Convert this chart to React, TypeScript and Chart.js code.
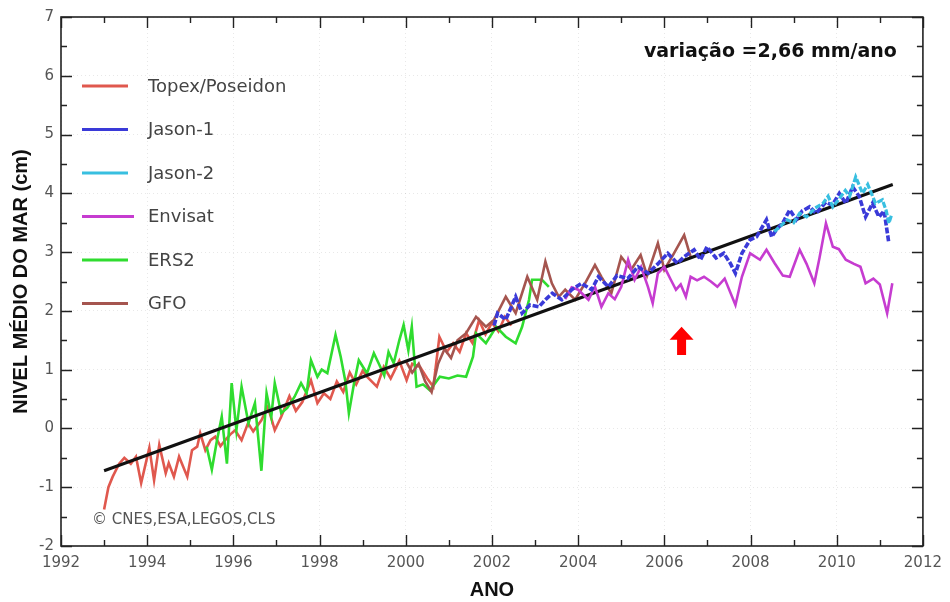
import React, { useEffect, useRef } from "react";
import { Chart, registerables } from "chart.js";

Chart.register(...registerables);

// ---------- axis ranges / labels ----------
const X_MIN = 1992;
const X_MAX = 2012;
const Y_MIN = -2;
const Y_MAX = 7;
const X_TITLE = "ANO";
const Y_TITLE = "NIVEL MÉDIO DO MAR (cm)";
const SLOPE_TEXT = "variação =2,66 mm/ano";
const CREDIT_TEXT = "© CNES,ESA,LEGOS,CLS";

// ---------- series ----------
const topexYears = [1993.0, 1993.1, 1993.2, 1993.35, 1993.47, 1993.62, 1993.74, 1993.86, 1994.05, 1994.16, 1994.28, 1994.43, 1994.5, 1994.62, 1994.74, 1994.93, 1995.04, 1995.16, 1995.23, 1995.35, 1995.47, 1995.58, 1995.7, 1995.81, 1995.93, 1996.04, 1996.19, 1996.34, 1996.46, 1996.65, 1996.8, 1996.96, 1997.11, 1997.3, 1997.45, 1997.6, 1997.8, 1997.95, 1998.1, 1998.25, 1998.4, 1998.55, 1998.7, 1998.85, 1999.0, 1999.1, 1999.33, 1999.49, 1999.65, 1999.85, 2000.02, 2000.15, 2000.33, 2000.5, 2000.64, 2000.78, 2000.95, 2001.1, 2001.25, 2001.4, 2001.55, 2001.7, 2001.85, 2002.0, 2002.15, 2002.3, 2002.45];
const topexValues = [-1.38, -1.0, -0.82, -0.6, -0.5, -0.6, -0.48, -0.93, -0.33, -0.88, -0.28, -0.76, -0.59, -0.82, -0.48, -0.82, -0.37, -0.31, -0.08, -0.37, -0.2, -0.14, -0.3, -0.2, -0.1, -0.03, -0.2, 0.09, -0.05, 0.14, 0.37, -0.03, 0.2, 0.55, 0.3, 0.45, 0.82, 0.43, 0.6, 0.5, 0.8, 0.62, 0.95, 0.75, 0.98, 0.88, 0.71, 1.05, 0.85, 1.15, 0.82, 1.1, 1.05, 0.85, 0.71, 1.56, 1.3, 1.45, 1.3, 1.62, 1.45, 1.84, 1.6, 1.8, 1.65, 1.9, 1.75];

const ers2Years = [1995.38, 1995.5, 1995.62, 1995.73, 1995.85, 1995.96, 1996.07, 1996.19, 1996.35, 1996.5, 1996.65, 1996.77, 1996.88, 1996.96, 1997.11, 1997.25, 1997.42, 1997.57, 1997.7, 1997.8, 1997.95, 1998.05, 1998.18, 1998.37, 1998.49, 1998.6, 1998.68, 1998.8, 1998.91, 1999.1, 1999.26, 1999.37, 1999.5, 1999.6, 1999.72, 1999.85, 1999.95, 2000.06, 2000.14, 2000.25, 2000.4, 2000.56, 2000.79, 2001.0, 2001.2, 2001.4, 2001.56, 2001.63, 2001.86, 2002.1, 2002.32, 2002.55, 2002.7, 2002.86, 2002.93, 2003.16, 2003.32];
const ers2Values = [-0.31, -0.7, -0.2, 0.2, -0.6, 0.77, -0.03, 0.71, 0.09, 0.43, -0.72, 0.6, 0.2, 0.77, 0.26, 0.35, 0.54, 0.77, 0.6, 1.16, 0.88, 1.0, 0.94, 1.59, 1.22, 0.8, 0.26, 0.77, 1.16, 0.94, 1.28, 1.11, 0.9, 1.3, 1.11, 1.5, 1.76, 1.33, 1.73, 0.71, 0.75, 0.65, 0.88, 0.85, 0.9, 0.88, 1.22, 1.62, 1.45, 1.73, 1.56, 1.45, 1.73, 2.19, 2.53, 2.53, 2.41];

const gfoYears = [2000.0, 2000.15, 2000.3, 2000.45, 2000.6, 2000.75, 2000.9, 2001.05, 2001.2, 2001.4, 2001.63, 2001.86, 2002.05, 2002.32, 2002.55, 2002.82, 2003.05, 2003.24, 2003.39, 2003.55, 2003.7, 2003.93, 2004.16, 2004.39, 2004.54, 2004.77, 2005.0, 2005.23, 2005.45, 2005.6, 2005.85, 2006.0, 2006.2, 2006.46, 2006.61];
const gfoValues = [1.15, 0.95, 1.1, 0.8, 0.62, 1.1, 1.35, 1.2, 1.5, 1.62, 1.9, 1.73, 1.85, 2.24, 1.96, 2.58, 2.19, 2.84, 2.47, 2.24, 2.36, 2.19, 2.47, 2.78, 2.58, 2.3, 2.92, 2.7, 2.95, 2.6, 3.15, 2.7, 2.95, 3.29, 2.92];

const jason1Years = [2002.05, 2002.13, 2002.32, 2002.55, 2002.7, 2002.88, 2003.09, 2003.24, 2003.4, 2003.62, 2003.85, 2004.08, 2004.31, 2004.47, 2004.7, 2004.9, 2005.15, 2005.39, 2005.62, 2005.85, 2006.08, 2006.3, 2006.46, 2006.69, 2006.84, 2006.99, 2007.2, 2007.38, 2007.53, 2007.65, 2007.8, 2007.99, 2008.14, 2008.37, 2008.49, 2008.6, 2008.75, 2008.91, 2009.06, 2009.2, 2009.37, 2009.52, 2009.75, 2009.9, 2010.06, 2010.21, 2010.37, 2010.52, 2010.67, 2010.83, 2010.98, 2011.1, 2011.21];
const jason1Values = [1.75, 1.96, 1.85, 2.24, 1.96, 2.1, 2.07, 2.19, 2.3, 2.19, 2.36, 2.47, 2.36, 2.58, 2.41, 2.6, 2.55, 2.75, 2.64, 2.8, 2.98, 2.81, 2.92, 3.04, 2.87, 3.09, 2.9, 2.98, 2.81, 2.64, 2.98, 3.21, 3.26, 3.55, 3.26, 3.38, 3.5, 3.72, 3.55, 3.7, 3.77, 3.66, 3.85, 3.8, 4.0, 3.83, 4.11, 3.95, 3.6, 3.83, 3.6, 3.7, 3.15];

const jason2Years = [2008.55, 2008.68, 2008.85, 2009.0, 2009.14, 2009.3, 2009.5, 2009.68, 2009.8, 2009.91, 2010.05, 2010.2, 2010.3, 2010.44, 2010.6, 2010.72, 2010.9, 2011.06, 2011.15, 2011.21, 2011.28];
const jason2Values = [3.35, 3.43, 3.55, 3.5, 3.66, 3.6, 3.75, 3.83, 3.95, 3.77, 3.9, 4.05, 3.95, 4.28, 4.0, 4.15, 3.83, 3.89, 3.7, 3.49, 3.65];

const envisatYears = [2003.7, 2003.85, 2004.0, 2004.24, 2004.39, 2004.54, 2004.7, 2004.85, 2005.0, 2005.16, 2005.31, 2005.46, 2005.62, 2005.73, 2005.85, 2006.0, 2006.15, 2006.27, 2006.38, 2006.5, 2006.61, 2006.76, 2006.92, 2007.08, 2007.23, 2007.4, 2007.65, 2007.8, 2007.99, 2008.22, 2008.37, 2008.56, 2008.75, 2008.91, 2009.14, 2009.3, 2009.48, 2009.6, 2009.75, 2009.91, 2010.05, 2010.21, 2010.4, 2010.55, 2010.67, 2010.85, 2011.0, 2011.17, 2011.29];
const envisatValues = [2.2, 2.4, 2.36, 2.19, 2.41, 2.07, 2.3, 2.2, 2.41, 2.87, 2.53, 2.75, 2.41, 2.13, 2.64, 2.75, 2.53, 2.36, 2.45, 2.24, 2.58, 2.52, 2.58, 2.5, 2.41, 2.55, 2.1, 2.58, 2.98, 2.87, 3.04, 2.81, 2.6, 2.58, 3.04, 2.8, 2.47, 2.9, 3.49, 3.09, 3.05, 2.87, 2.8, 2.75, 2.47, 2.55, 2.45, 1.96, 2.47];

const trendYears = [1993.0, 2011.3];
const trendValues = [-0.72, 4.15];

// red arrow annotation (data coordinates)
const arrowYear = 2006.4;
const arrowTop = 1.73;
const arrowBottom = 1.25;

const legendOrder = ["Topex/Poseidon", "Jason-1", "Jason-2", "Envisat", "ERS2", "GFO"];

const toPoints = (xs: number[], ys: number[]) => xs.map((x, i) => ({ x, y: ys[i] }));

const framePlugin = {
  id: "frameTicks",
  afterDraw(chart: any) {
    const { ctx, chartArea, scales } = chart;
    const { left, right, top, bottom } = chartArea;
    const xs = scales.x;
    const ys = scales.y;
    ctx.save();
    ctx.strokeStyle = "#222";
    ctx.lineWidth = 1.6;
    ctx.strokeRect(left, top, right - left, bottom - top);
    ctx.lineWidth = 1.4;
    ctx.beginPath();
    for (let yr = X_MIN; yr <= X_MAX; yr += 1) {
      const px = Math.round(xs.getPixelForValue(yr)) + 0.5;
      const len = yr % 2 === 0 ? 11 : 6;
      ctx.moveTo(px, bottom);
      ctx.lineTo(px, bottom - len);
      ctx.moveTo(px, top);
      ctx.lineTo(px, top + len);
    }
    for (let v = Y_MIN; v <= Y_MAX; v += 0.5) {
      const py = Math.round(ys.getPixelForValue(v)) + 0.5;
      const len = Number.isInteger(v) ? 11 : 6;
      ctx.moveTo(left, py);
      ctx.lineTo(left + len, py);
      ctx.moveTo(right, py);
      ctx.lineTo(right - len, py);
    }
    ctx.stroke();
    ctx.restore();
  },
};

const annotationPlugin = {
  id: "annotations",
  afterDraw(chart: any) {
    const { ctx, chartArea, scales } = chart;
    const { left, right, bottom } = chartArea;
    ctx.save();
    // legend
    const datasets = chart.data.datasets;
    ctx.font = '18px "DejaVu Sans"';
    ctx.textBaseline = "middle";
    ctx.textAlign = "left";
    legendOrder.forEach((label, i) => {
      const ds = datasets.find((d: any) => d.label === label);
      if (!ds) return;
      const yRow = 86 + i * 43.5;
      ctx.strokeStyle = ds.borderColor;
      ctx.lineWidth = 3;
      ctx.beginPath();
      ctx.moveTo(left + 21, yRow);
      ctx.lineTo(left + (label === "Envisat" ? 73 : 67), yRow);
      ctx.stroke();
      ctx.fillStyle = "#444";
      ctx.fillText(label, left + 87, yRow + 1);
    });
    // slope text
    ctx.font = 'bold 19px "DejaVu Sans"';
    ctx.fillStyle = "#111";
    ctx.textAlign = "right";
    ctx.fillText(SLOPE_TEXT, right - 26, 52);
    // credit
    ctx.font = '15px "DejaVu Sans"';
    ctx.fillStyle = "#555";
    ctx.textAlign = "left";
    ctx.fillText(CREDIT_TEXT, left + 31, bottom - 26);
    // red arrow
    const ax = scales.x.getPixelForValue(arrowYear);
    const at = scales.y.getPixelForValue(arrowTop);
    const ab = scales.y.getPixelForValue(arrowBottom);
    ctx.fillStyle = "#ff0000";
    ctx.beginPath();
    ctx.moveTo(ax, at);
    ctx.lineTo(ax + 12, at + 13);
    ctx.lineTo(ax + 4.5, at + 13);
    ctx.lineTo(ax + 4.5, ab);
    ctx.lineTo(ax - 4.5, ab);
    ctx.lineTo(ax - 4.5, at + 13);
    ctx.lineTo(ax - 12, at + 13);
    ctx.closePath();
    ctx.fill();
    ctx.restore();
  },
};

export default function App() {
  const canvasRef = useRef<HTMLCanvasElement | null>(null);

  useEffect(() => {
    if (!canvasRef.current) return;
    Chart.defaults.font.family = '"DejaVu Sans"';
    const lineDs = (label: string, xs: number[], ys: number[], color: string, width = 2.6, dash: number[] = []) => ({
      label,
      data: toPoints(xs, ys),
      borderColor: color,
      backgroundColor: color,
      borderWidth: width,
      borderDash: dash,
      pointRadius: 0,
      tension: 0,
      fill: false,
    });
    const chart = new Chart(canvasRef.current, {
      type: "line",
      data: {
        datasets: [
          lineDs("Jason-2", jason2Years, jason2Values, "#38bfe0", 3.2, [6, 2]),
          lineDs("Jason-1", jason1Years, jason1Values, "#3a3ad8", 3.6, [6, 2]),
          lineDs("Envisat", envisatYears, envisatValues, "#c63cd0"),
          lineDs("trend", trendYears, trendValues, "#111111", 3),
          lineDs("GFO", gfoYears, gfoValues, "#a5554f"),
          lineDs("ERS2", ers2Years, ers2Values, "#2fdc2f"),
          lineDs("Topex/Poseidon", topexYears, topexValues, "#e0584e"),
        ],
      },
      options: {
        animation: false,
        responsive: true,
        maintainAspectRatio: false,
        layout: { padding: { top: 17, right: 20, left: 0, bottom: 0 } },
        plugins: { legend: { display: false }, tooltip: { enabled: false } },
        scales: {
          x: {
            type: "linear",
            min: X_MIN,
            max: X_MAX,
            afterFit: (s: any) => { s.height = 56; },
            ticks: { stepSize: 2, color: "#555", font: { size: 15 }, padding: 8, callback: (v: any) => String(v) },
            grid: { color: "rgba(0,0,0,0.09)", lineWidth: 1, drawTicks: false },
            border: { display: false, dash: [1, 3] },
            title: { display: true, text: X_TITLE, color: "#111", font: { family: '"Liberation Sans"', size: 20, weight: "bold" }, padding: 0 },
          },
          y: {
            type: "linear",
            min: Y_MIN,
            max: Y_MAX,
            afterFit: (s: any) => { s.width = 61; },
            ticks: { stepSize: 1, color: "#555", font: { size: 15 }, padding: 7 },
            grid: { color: "rgba(0,0,0,0.09)", lineWidth: 1, drawTicks: false },
            border: { display: false, dash: [1, 3] },
            title: { display: true, text: Y_TITLE, color: "#111", font: { family: '"Liberation Sans"', size: 20, weight: "bold" }, padding: { top: 9, bottom: 0 } },
          },
        },
      },
      plugins: [framePlugin, annotationPlugin],
    });
    return () => chart.destroy();
  }, []);

  return (
    <div style={{ position: "fixed", left: 0, top: 0, width: 950, height: 602, background: "#fff" }}>
      <canvas ref={canvasRef} />
    </div>
  );
}
